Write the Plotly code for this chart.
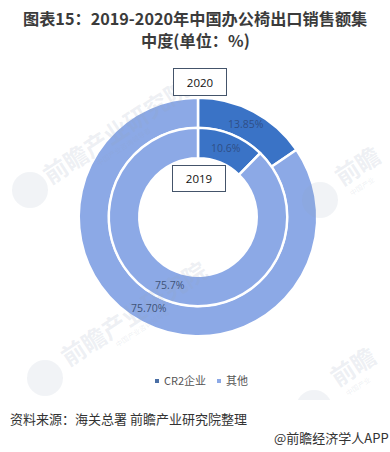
import plotly.graph_objects as go

categories = ["CR2企业", "其他"]
values_2020 = [13.85, 75.70]
values_2019 = [10.6, 75.7]
label_2020 = ["13.85%", "75.70%"]
label_2019 = ["10.6%", "75.7%"]
colors = ["#3A73C6", "#8CA9E6"]
W, H = 390, 452
FONT = "Noto Sans CJK SC"
TEXT = "#404040"


def xd(a, b):
    return [a / W, b / W]


def yd(top, bottom):
    return [1 - bottom / H, 1 - top / H]


fig = go.Figure()
fig.add_trace(go.Pie(labels=categories, values=values_2020, name="2020", sort=False, direction="clockwise",
                     rotation=0, hole=0.746, textinfo="none", hoverinfo="label+value", showlegend=False,
                     marker=dict(colors=colors, line=dict(color="white", width=2.5)),
                     domain=dict(x=xd(78.75, 317.25), y=yd(97.75, 336.25))))
fig.add_trace(go.Pie(labels=categories, values=values_2019, name="2019", sort=False, direction="clockwise",
                     rotation=0, hole=0.658, textinfo="none", hoverinfo="label+value", showlegend=False,
                     marker=dict(colors=colors, line=dict(color="white", width=2.5)),
                     domain=dict(x=xd(108.75, 287.25), y=yd(127.75, 306.25))))


def note(x, y, text, size=10, color=TEXT, **kw):
    fig.add_annotation(x=x / W, y=1 - y / H, xref="paper", yref="paper", text=text, showarrow=False,
                       font=dict(size=size, color=color, family=kw.pop("family", FONT)),
                       xanchor=kw.pop("xanchor", "center"), yanchor="middle", **kw)


# watermark
wm = "rgba(150,165,185,0.17)"
for x, y, t in [(115, 130, "<b>前瞻产业研究院</b>"), (133, 312, "<b>前瞻产业研究院</b>"),
                (357, 165, "<b>前瞻</b>"), (352, 365, "<b>前瞻</b>")]:
    note(x, y, t, size=24, color=wm, textangle=-33)
for x, y, t in [(124, 146, "中国产业咨询领导者"), (142, 328, "中国产业咨询领导者"),
                (362, 186, "中国产业"), (358, 386, "中国产业")]:
    note(x, y, t, size=7, color=wm, textangle=-33)
for cx, cy, r in [(30, 190, 18), (45, 378, 18), (320, 200, 18), (314, 408, 18)]:
    fig.add_shape(type="circle", xref="paper", yref="paper", x0=(cx - r) / W, x1=(cx + r) / W,
                  y0=1 - (cy + r) / H, y1=1 - (cy - r) / H, line_width=0, fillcolor="rgba(150,165,185,0.13)")
fig.add_shape(type="rect", xref="paper", yref="paper", x0=0, x1=1, y0=0, y1=1 - 400 / H, line_width=0,
              fillcolor="white")

note(195, 18.5, "<b>图表15：2019-2020年中国办公椅出口销售额集</b>", size=16.2, color="#3b3b3b")
note(195, 40, "<b>中度(单位：%)</b>", size=16.2, color="#3b3b3b")

note(200, 82, "2020", size=11.5, color="#111111", family="Open Sans", bordercolor="#44546A", borderwidth=1,
     bgcolor="white", width=50, height=24)
note(199, 178, "2019", size=11.5, color="#111111", family="Open Sans", bordercolor="#44546A", borderwidth=1,
     bgcolor="white", width=50, height=23)

note(246, 124, label_2020[0], size=10.5, color="#2f4f86", family="Open Sans")
note(226, 148, label_2019[0], size=10.5, color="#2f4f86", family="Open Sans")
note(170, 285, label_2019[1], size=10.5, color="#3f5378", family="Open Sans")
note(149, 308, label_2020[1], size=10.5, color="#3f5378", family="Open Sans")

# legend
for mx, c in [(157, "#4A6FA5"), (219, colors[1])]:
    fig.add_shape(type="rect", xref="paper", yref="paper", x0=(mx - 2) / W, x1=(mx + 2) / W,
                  y0=1 - 383 / H, y1=1 - 379 / H, line_width=0, fillcolor=c)
note(162, 380, categories[0], size=11, color="#555555", xanchor="left")
note(224, 380, categories[1], size=11, color="#555555", xanchor="left")

note(8, 418, "资料来源：海关总署 前瞻产业研究院整理", size=13, color="#333333", xanchor="left")
note(272, 437, "@前瞻经济学人APP", size=13, color="#333333", xanchor="left")

fig.update_layout(width=W, height=H, margin=dict(l=0, r=0, t=0, b=0), paper_bgcolor="white",
                  font=dict(family=FONT), showlegend=False)
fig.write_html("out.html", config=dict(displayModeBar=False),
               post_script="document.body.style.margin='0';document.documentElement.style.overflow='hidden';")
